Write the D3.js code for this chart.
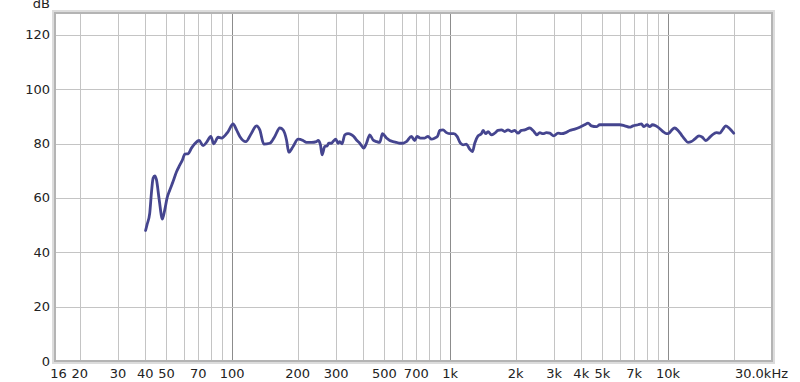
<!DOCTYPE html>
<html>
<head>
<meta charset="utf-8">
<script src="https://cdn.jsdelivr.net/npm/d3@7"></script>
<style>
  html, body { margin: 0; padding: 0; background: #fff; }
  svg { display: block; font-family: 'DejaVu Sans', sans-serif; }
</style>
</head>
<body>
<div id="chart"></div>
<script>
// frequency response
const freqs = [
  40.1, 40.7, 41.9, 42.7, 43.4, 44.2, 45.0, 46.3, 47.9, 49.1,
  50.3, 51.8, 53.6, 55.6, 57.6, 59.2, 60.7, 62.8, 65.1, 67.4,
  70.6, 73.6, 76.3, 79.9, 82.4, 86.3, 89.4, 95.9, 101.1, 104.8,
  108.5, 115.6, 122.7, 129.4, 134.0, 139.8, 148.9, 157.0, 165.5, 171.4,
  177.7, 182.0, 190.5, 200.8, 211.7, 219.4, 231.3, 243.9, 248.1, 254.4,
  258.7, 266.2, 272.8, 277.7, 285.8, 290.6, 299.0, 306.4, 311.9, 319.6,
  328.9, 340.5, 353.0, 361.7, 372.1, 385.3, 401.9, 413.5, 428.3, 443.4,
  459.6, 475.9, 489.7, 510.9, 529.0, 547.7, 567.7, 587.9, 608.7, 631.0,
  665.1, 688.7, 705.6, 731.4, 765.3, 792.5, 821.6, 850.6, 875.3, 896.9,
  928.6, 962.8, 1004, 1040, 1077, 1116, 1147, 1189, 1231, 1267,
  1298, 1344, 1393, 1417, 1458, 1494, 1548, 1603, 1660, 1721,
  1782, 1845, 1912, 1980, 2050, 2125, 2201, 2320, 2402, 2506,
  2579, 2670, 2768, 2866, 2990, 3129, 3243, 3395, 3542, 3733,
  3936, 4149, 4296, 4453, 4695, 4861, 5124, 5403, 5696, 6005,
  6331, 6674, 6910, 7286, 7551, 7736, 8012, 8243, 8481, 8783,
  9094, 9487, 9834, 10107, 10366, 10733, 11115, 11521, 11928, 12350,
  12802, 13258, 13873, 14380, 14889, 15418, 15982, 16672, 17265, 17877,
  18394, 19046, 19535, 20017
];
const levels = [
  48.0, 50.1, 54.4, 62.3, 67.2, 68.1, 66.6, 59.3, 52.2, 55.6,
  59.9, 62.9, 66.0, 69.6, 72.1, 74.0, 76.1, 76.2, 78.3, 79.9,
  81.1, 79.2, 80.4, 82.6, 79.9, 82.3, 82.0, 84.4, 87.2, 85.0,
  82.6, 80.7, 83.8, 86.5, 85.0, 79.8, 80.1, 82.6, 85.7, 85.0,
  81.3, 76.8, 78.9, 81.6, 81.1, 80.4, 80.4, 80.7, 81.1, 79.5,
  75.8, 78.9, 79.1, 80.1, 80.1, 80.7, 81.6, 80.1, 80.7, 79.9,
  83.2, 83.6, 83.2, 82.6, 81.3, 80.1, 78.3, 80.1, 83.2, 81.3,
  80.7, 80.4, 83.6, 82.0, 81.1, 80.7, 80.4, 80.1, 80.1, 80.7,
  82.6, 81.1, 82.6, 82.0, 82.0, 82.6, 81.6, 82.0, 82.6, 84.8,
  85.0, 84.0, 83.6, 83.6, 82.6, 80.1, 79.5, 79.8, 77.9, 77.0,
  80.1, 82.8, 83.6, 84.8, 83.6, 84.4, 83.2, 83.8, 84.8, 85.0,
  84.4, 85.0, 84.4, 84.8, 83.8, 84.8, 85.0, 85.7, 84.8, 83.2,
  84.0, 83.6, 84.0, 83.8, 82.8, 83.8, 83.6, 84.0, 84.8, 85.3,
  86.0, 86.9, 87.5, 86.5, 86.2, 86.9, 86.9, 86.9, 86.9, 86.9,
  86.5, 86.0, 86.5, 86.9, 87.2, 86.2, 86.9, 86.2, 86.9, 86.5,
  85.7, 84.4, 83.6, 83.8, 84.8, 85.7, 84.8, 83.2, 81.6, 80.4,
  80.7, 81.6, 82.8, 82.3, 81.1, 82.0, 83.2, 84.0, 83.8, 85.3,
  86.5, 85.7, 84.8, 83.8
];

const xGrid = [20, 30, 40, 50, 60, 70, 80, 90, 100, 200, 300, 400, 500, 600, 700, 800, 900,
  1000, 2000, 3000, 4000, 5000, 6000, 7000, 8000, 9000, 10000, 20000];
const xDecades = [100, 1000, 10000];
const xTicks = [16, 20, 30, 40, 50, 70, 100, 200, 300, 500, 700, 1000, 2000, 3000, 4000, 5000, 7000, 10000];
const xTickText = ['16', '20', '30', '40', '50', '70', '100', '200', '300', '500', '700',
  '1k', '2k', '3k', '4k', '5k', '7k', '10k'];
const yTicks = [0, 20, 40, 60, 80, 100, 120];

const width = 800;
const height = 382;
const margin = {top: 13, right: 28, bottom: 21, left: 55};

const x = d3.scaleLog()
    .domain([15.4, 30000])
    .range([margin.left, width - margin.right]);
const y = d3.scaleLinear()
    .domain([0, 128])
    .range([height - margin.bottom, margin.top]);

const svg = d3.select('#chart').append('svg')
    .attr('width', width)
    .attr('height', height);

// frame shadow
svg.append('rect')
    .attr('x', margin.left - 1.5)
    .attr('y', margin.top - 1.5)
    .attr('width', x.range()[1] - x.range()[0] + 3)
    .attr('height', y.range()[0] - y.range()[1] + 3)
    .attr('fill', 'none')
    .attr('stroke', '#dcdcdc')
    .attr('stroke-width', 3);

const grid = svg.append('g');
grid.selectAll('line.v')
    .data(xGrid)
    .join('line')
    .attr('x1', (d) => Math.round(x(d)) + 0.5)
    .attr('x2', (d) => Math.round(x(d)) + 0.5)
    .attr('y1', y.range()[1])
    .attr('y2', y.range()[0])
    .attr('stroke', (d) => xDecades.includes(d) ? '#8c8c8c' : '#c4c4c4')
    .attr('stroke-width', 1);

grid.selectAll('line.h')
    .data(yTicks.slice(1))
    .join('line')
    .attr('x1', x.range()[0])
    .attr('x2', x.range()[1])
    .attr('y1', (d) => Math.round(y(d)) + 0.5)
    .attr('y2', (d) => Math.round(y(d)) + 0.5)
    .attr('stroke', '#c4c4c4')
    .attr('stroke-width', 1);

// frame
svg.append('rect')
    .attr('x', margin.left)
    .attr('y', margin.top)
    .attr('width', x.range()[1] - x.range()[0])
    .attr('height', y.range()[0] - y.range()[1])
    .attr('fill', 'none')
    .attr('stroke', '#b4b4b4')
    .attr('stroke-width', 2);

const points = freqs.map((f, i) => [f, levels[i]]);
const line = d3.line()
    .x((d) => x(d[0]))
    .y((d) => y(d[1]))
    .curve(d3.curveMonotoneX);

svg.append('path')
    .datum(points)
    .attr('d', line)
    .attr('fill', 'none')
    .attr('stroke', '#45458f')
    .attr('stroke-width', 2.8)
    .attr('stroke-linejoin', 'round')
    .attr('stroke-linecap', 'round');

// y labels
svg.append('g')
    .selectAll('text')
    .data(yTicks)
    .join('text')
    .attr('x', margin.left - 5)
    .attr('y', (d) => y(d))
    .attr('dy', '0.35em')
    .attr('text-anchor', 'end')
    .attr('font-size', 13)
    .attr('fill', '#222')
    .text((d) => d);

svg.append('text')
    .attr('x', margin.left - 5)
    .attr('y', 7.5)
    .attr('text-anchor', 'end')
    .attr('font-size', 13)
    .attr('fill', '#222')
    .text('dB');

// x labels
svg.append('g')
    .selectAll('text')
    .data(xTicks)
    .join('text')
    .attr('x', (d) => x(d))
    .attr('y', height - 4)
    .attr('text-anchor', 'middle')
    .attr('font-size', 13)
    .attr('fill', '#222')
    .text((d, i) => xTickText[i]);

svg.append('text')
    .attr('x', x(30000) + 16)
    .attr('y', height - 4)
    .attr('text-anchor', 'end')
    .attr('font-size', 13)
    .attr('fill', '#222')
    .text('30.0kHz');
</script>
</body>
</html>
